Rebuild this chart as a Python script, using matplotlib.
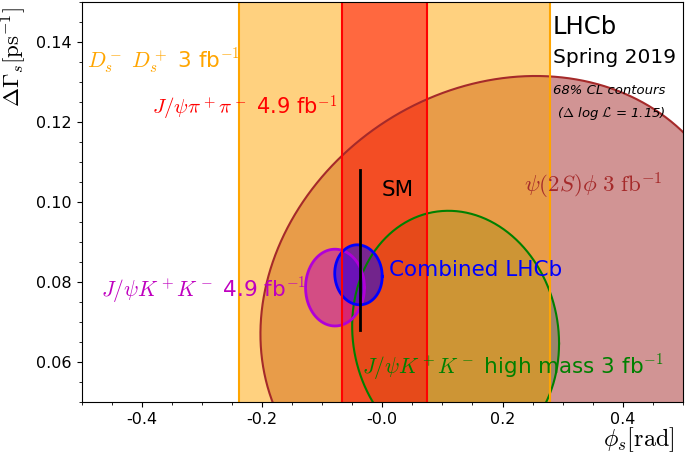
import numpy as np
import matplotlib
matplotlib.use("Agg")
import matplotlib.pyplot as plt
from matplotlib.ticker import MultipleLocator, FixedLocator, FixedFormatter

plt.rcParams["mathtext.fontset"] = "cm"

# phi_s-only measurements (bands): centre and 68% CL half-width
band_names = ["DsDs", "Jpsipipi"]
band_phi = [0.021, 0.004]
band_hw = [0.2587, 0.071]
band_colors = ["orange", "red"]

# 2D measurements: centre, 68% CL half-widths, correlation
ell_names = ["psi2Sphi", "JpsiKK_hm", "JpsiKK", "combined"]
ell_phi = [0.1953, 0.122, -0.0785, -0.0395]
ell_dg = [0.0754, 0.0668, 0.0786, 0.0818]
ell_phi_hw = [0.3978, 0.172, 0.049, 0.0395]
ell_dg_hw = [0.0561, 0.031, 0.0096, 0.0075]
ell_rho = [0.15, -0.07, 0.0, -0.05]
ell_face = ["brown", "#1e6410", "m", "b"]
ell_edge = ["brown", "green", "#b000d8", "b"]
ell_lw = [1.5, 1.5, 2.0, 2.0]

# Standard Model prediction
sm_phi = -0.0369
sm_dg = 0.088
sm_dg_err = 0.020

# labels: text, x, y, colour, size
lab_text = [r"$D_s^-\ D_s^+$ 3 fb$^{-1}$",
            r"$J/\psi\pi^+\pi^-$ 4.9 fb$^{-1}$",
            r"$\psi(2S)\phi\ 3\ \mathrm{fb}^{-1}$",
            "Combined LHCb",
            r"$J/\psi K^+K^-$ 4.9 fb$^{-1}$",
            r"$J/\psi K^+K^-$ high mass 3 fb$^{-1}$",
            "SM"]
lab_x = [-0.491, -0.383, 0.235, 0.012, -0.468, -0.033, -0.0005]
lab_y = [0.1352, 0.1235, 0.104, 0.083, 0.078, 0.0588, 0.103]
lab_col = ["orange", "red", "brown", "b", "m", "green", "k"]
lab_size = [15.5, 15, 16.5, 15.5, 15.5, 15.5, 15.5]


def ellipse(i):
    t = np.linspace(0, 2 * np.pi, 400)
    r = ell_rho[i]
    x = ell_phi[i] + ell_phi_hw[i] * np.cos(t)
    y = ell_dg[i] + ell_dg_hw[i] * (r * np.cos(t) + np.sqrt(1 - r ** 2) * np.sin(t))
    return x, y


fig = plt.figure(figsize=(6.85, 4.53), dpi=100)
ax = fig.add_axes([0.119, 0.1126, 0.878, 0.883])

# fills (order matters for the colour mixing)
x, y = ellipse(0)
ax.fill(x, y, color=ell_face[0], alpha=0.5, lw=0, zorder=1)
x, y = ellipse(1)
ax.fill(x, y, color=ell_face[1], alpha=0.3, lw=0, zorder=1)
for c, hw, col in zip(band_phi, band_hw, band_colors):
    ax.axvspan(c - hw, c + hw, color=col, alpha=0.5, lw=0, zorder=1)
for i in (2, 3):
    x, y = ellipse(i)
    ax.fill(x, y, color=ell_face[i], alpha=0.5, lw=0, zorder=1)

# contour lines
for i in range(len(ell_names)):
    x, y = ellipse(i)
    ax.plot(x, y, color=ell_edge[i], lw=ell_lw[i], zorder=2)
for c, hw, col in zip(band_phi, band_hw, band_colors):
    ax.axvline(c - hw, color=col, lw=1.5, zorder=2)
    ax.axvline(c + hw, color=col, lw=1.5, zorder=2)

ax.plot([sm_phi, sm_phi], [sm_dg - sm_dg_err, sm_dg + sm_dg_err], color="k", lw=2, zorder=3)

for s, xx, yy, col, fs in zip(lab_text, lab_x, lab_y, lab_col, lab_size):
    ax.text(xx, yy, s, color=col, fontsize=fs, ha="left", va="center", zorder=4)

ax.text(0.284, 0.1437, "LHCb", fontsize=17.5, ha="left", va="center")
ax.text(0.284, 0.136, "Spring 2019", fontsize=14.5, ha="left", va="center")
ax.text(0.284, 0.1278, "68% CL contours", fontsize=9.5, style="italic", ha="left", va="center")
ax.text(0.291, 0.122, r"($\Delta$ log $\mathcal{L}$ = 1.15)", fontsize=9.5, style="italic",
        ha="left", va="center")

ax.set_xlim(-0.5, 0.5)
ax.set_ylim(0.05, 0.15)
xt = [-0.4, -0.2, 0.0, 0.2, 0.4]
ax.xaxis.set_major_locator(FixedLocator(xt))
ax.xaxis.set_major_formatter(FixedFormatter(["-0.4", "-0.2", "-0.0", "0.2", "0.4"]))
ax.xaxis.set_minor_locator(MultipleLocator(0.05))
ax.yaxis.set_major_locator(FixedLocator([0.06, 0.08, 0.10, 0.12, 0.14]))
ax.yaxis.set_major_formatter(FixedFormatter(["0.06", "0.08", "0.10", "0.12", "0.14"]))
ax.yaxis.set_minor_locator(MultipleLocator(0.005))
ax.tick_params(labelsize=11.5)

ax.set_xlabel(r"$\phi_s[\mathrm{rad}]$", fontsize=17.5, loc="right")
ax.xaxis.set_label_coords(0.987, -0.058)
ax.set_ylabel(r"$\Delta\Gamma_s[\mathrm{ps}^{-1}]$", fontsize=16.5, loc="top")
ax.yaxis.set_label_coords(-0.088, 0.9875)

fig.savefig("out.png", dpi=100)
